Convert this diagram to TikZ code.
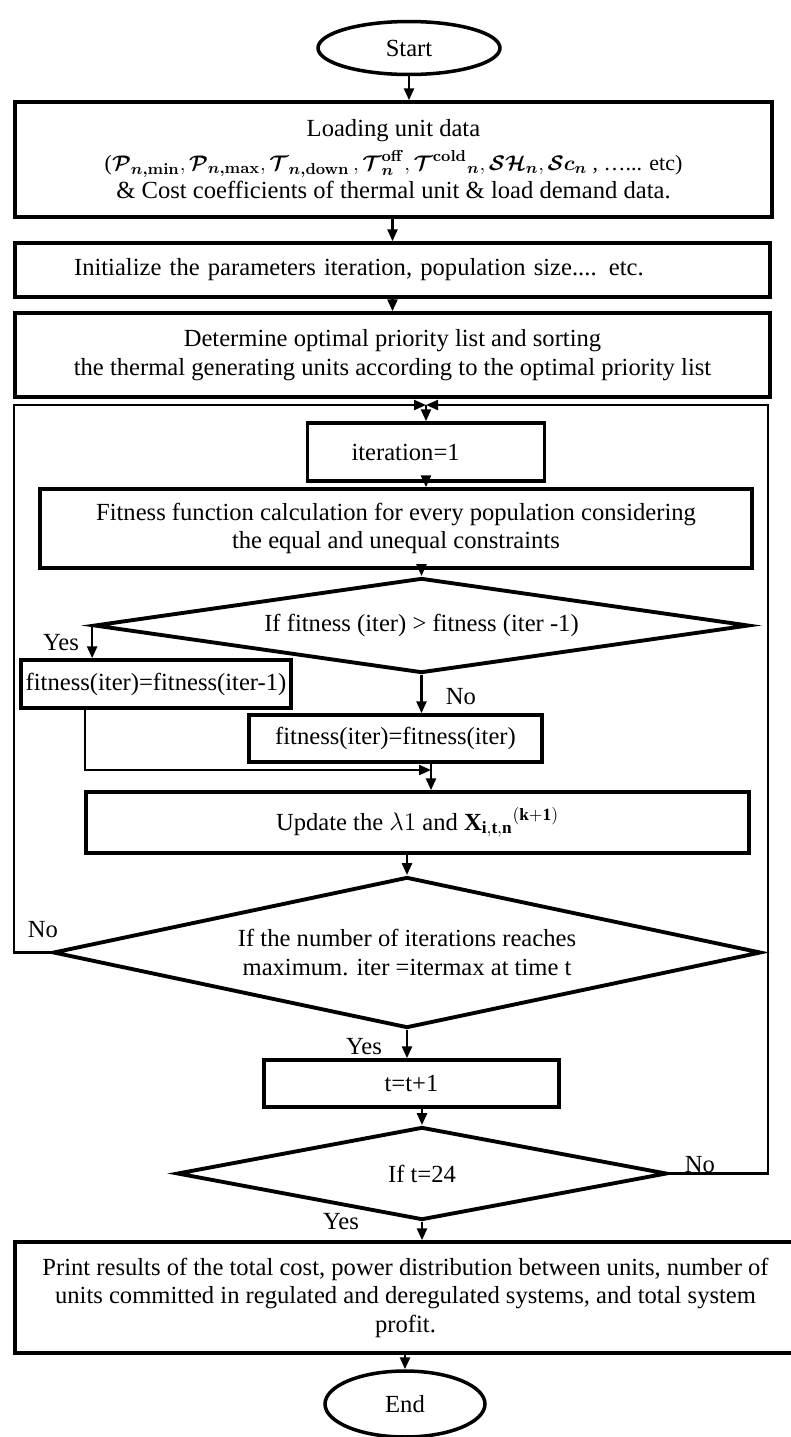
\documentclass[tikz,border=0pt]{standalone}
\usepackage{fontspec}
\setmainfont{Liberation Serif}
\usepackage{amsmath,bm}
\usetikzlibrary{shapes.geometric, arrows.meta, calc}
\definecolor{boxborder}{RGB}{0,0,0}
\tikzset{
    block/.style={rectangle, draw=boxborder, line width=2pt, align=center,
        inner sep=2pt, font=\fontsize{14}{16.2}\selectfont},
    terminal/.style={ellipse, draw=boxborder, line width=2pt, inner sep=0pt,
        font=\fontsize{14}{16.2}\selectfont},
    decision/.style={diamond, draw=boxborder, line width=2.2pt, inner sep=0pt,
        align=center, font=\fontsize{14}{16.2}\selectfont},
    arrow/.style={-{Triangle[length=2.4mm, width=2mm]}, line width=1.5pt},
    loopline/.style={-{Triangle[length=2.4mm, width=2mm]}, line width=1.2pt},
    tag/.style={inner sep=1pt, font=\fontsize{14}{16.2}\selectfont}
}

\begin{document}
\begin{tikzpicture}[x=0.02cm, y=-0.02cm]
    \useasboundingbox (0,0) rectangle (791,1437);

    \node[terminal, minimum width=3.64cm, minimum height=1.06cm] (start) at (409,48) {Start};
    \node[block, minimum width=15.14cm, minimum height=2.3cm] (load) at (393.5,159.5) {Loading unit data\\[3pt]
        {\fontsize{12.5}{16}\selectfont($\bm{\mathcal{P}_{n,\mathbf{min}}}, \bm{\mathcal{P}_{n,\mathbf{max}}}, \bm{\mathcal{T}_{n,\mathbf{down}}}\,, \bm{\mathcal{T}^{\mathbf{off}}_{n}}, \bm{\mathcal{T}^{\mathbf{cold}}}{}_{\bm{n}}, \bm{\mathcal{SH}_{n}}, \bm{\mathcal{S}c_{n}}$ , …... etc)}\\
        \& Cost coefficients of thermal unit \& load demand data.};
    \node[block, minimum width=15.1cm, minimum height=1.08cm, text width=12.74cm, inner xsep=1.18cm, align=left] (init) at (392.5,270) {Initialize the parameters iteration, population size.... etc.};
    \node[block, minimum width=15.1cm, minimum height=1.68cm] (prio) at (392.5,355) {Determine optimal priority list and sorting\\ the thermal generating units according to the optimal priority list};

    \node[block, minimum width=4.74cm, minimum height=1.16cm, text width=2.98cm, inner xsep=0.88cm, align=left] (iter) at (426,452) {iteration=1};
    \node[block, minimum width=14.24cm, minimum height=1.58cm] (fit) at (396,528.5) {Fitness function calculation for every population considering\\ the equal and unequal constraints};
    \node[decision, aspect=6.9, minimum width=13.1cm, minimum height=1.9cm] (dec1) at (421.5,625.5) {If fitness (iter) > fitness (iter -1)};
    \node[block, minimum width=5.4cm, minimum height=0.96cm] (keep) at (156,684) {fitness(iter)=fitness(iter-1)};
    \node[block, minimum width=5.86cm, minimum height=0.94cm] (same) at (395.5,738.5) {fitness(iter)=fitness(iter)};
    \node[block, minimum width=13.26cm, minimum height=1.22cm] (upd) at (417.5,822.5) {Update the $\lambda1$ and ${\mathbf{X}_{\mathbf{i,t,n}}}^{\mathbf{(k+1)}}$};
    \node[decision, aspect=4.69, minimum width=14.16cm, minimum height=3.02cm] (dec2) at (407,952.5) {If the number of iterations reaches\\ maximum. iter =itermax at time t};
    \node[block, minimum width=5.9cm, minimum height=0.94cm] (tinc) at (411.5,1083.5) {t=t+1};
    \node[decision, aspect=5.27, minimum width=9.8cm, minimum height=1.86cm] (dec3) at (422,1173.5) {If t=24};
    \node[block, minimum width=15.62cm, minimum height=2.22cm] (print) at (405.5,1297.5) {Print results of the total cost, power distribution between units, number of\\ units committed in regulated and deregulated systems, and total system\\ profit.};
    \node[terminal, minimum width=3.2cm, minimum height=1.32cm] (end) at (405,1404) {End};

    \coordinate (merge) at (426,405);
    \coordinate (lft) at (14,405);
    \coordinate (rgt) at (768,405);
    \coordinate (join) at (431,770);

    \node[tag] (yes1) at (61,643) {Yes};
    \node[tag] (no1) at (461,697) {No};
    \node[tag] (no2) at (43,930) {No};
    \node[tag] (yes2) at (364,1047) {Yes};
    \node[tag] (no3) at (700,1165) {No};
    \node[tag] (yes3) at (341,1222) {Yes};

    \draw[arrow] (start) -- (start |- load.north);
    \draw[arrow] (load.south -| init.north) -- (init.north);
    \draw[arrow] ([yshift=0.08cm]init.south) -- (prio.north);
    \draw[arrow] (merge) -- (iter.north);
    \draw[arrow] ([yshift=0.08cm]iter.south) -- (iter.south |- fit.north);
    \draw[arrow] (fit.south -| dec1.north) -- (dec1.north);
    \draw[arrow] (dec1.west) -- (dec1.west |- keep.north);
    \draw[arrow] (dec1.south) -- (dec1.south |- same.north);
    \draw[arrow, line width=1.2pt] ($(keep.south west)!0.24!(keep.south east)$) |- (join);
    \draw[arrow] (same.south -| join) -- (upd.north -| join);
    \draw[arrow] (upd.south -| dec2.north) -- (dec2.north);
    \draw[arrow] (dec2.south) -- (dec2.south |- tinc.north);
    \draw[arrow] (tinc.south -| dec3.north) -- (dec3.north);
    \draw[arrow] (dec3.south) -- (dec3.south |- print.north);
    \draw[arrow] (print.south -| end.north) -- (end.north);

    \draw[loopline] (dec2.west) -- (dec2.west -| lft) -- (lft) -- (merge);
    \draw[loopline] (dec3.east) -- (dec3.east -| rgt) -- (rgt) -- (merge);

\end{tikzpicture}
\end{document}
